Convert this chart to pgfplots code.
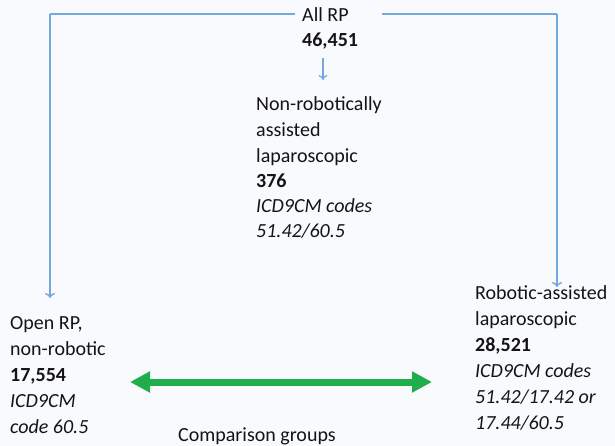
\documentclass[border=0pt]{standalone}
\usepackage{pgfplots}
\pgfplotsset{compat=1.18}
\usepackage{fontspec}
\setmainfont{Carlito}
\usetikzlibrary{arrows.meta}
\definecolor{bgcol}{RGB}{248,250,253}
\definecolor{blueline}{RGB}{118,168,224}
\definecolor{greenarr}{RGB}{32,174,76}
\definecolor{txt}{RGB}{20,20,20}
\tikzset{lbl/.style={font=\fontsize{20bp}{25bp}\selectfont, text=txt, inner sep=0pt, anchor=base west}}
\begin{document}
\begin{tikzpicture}
\begin{axis}[scale only axis, width=615bp, height=446bp,
  xmin=0, xmax=615, ymin=0, ymax=446, y dir=reverse,
  hide axis, clip=false]
\addplot[fill=bgcol, draw=none] coordinates {(0,0) (615,0) (615,446) (0,446)} -- cycle;
% blue connectors
\addplot[blueline, line width=1.6bp] coordinates {(50,14) (295,14)};
\addplot[blueline, line width=1.6bp] coordinates {(382,14) (557,14)};
\addplot[blueline, line width=1.5bp, -{To[length=5bp,width=10bp]}] coordinates {(50,14) (50,298)};
\addplot[blueline, line width=1.5bp, -{To[length=5bp,width=10bp]}] coordinates {(557,14) (557,287)};
\addplot[blueline, line width=1.2bp, -{To[length=5bp,width=9bp]}] coordinates {(323,58) (323,80)};
% green double arrow
\addplot[greenarr, line width=7bp, {Triangle[length=20bp,width=20bp]}-{Triangle[length=20bp,width=20bp]}] coordinates {(130,382) (432,382)};
% texts
\node[lbl] at (axis cs:302,22) {All RP};
\node[lbl] at (axis cs:302,47) {\bfseries 46,451};
\node[lbl] at (axis cs:256,110) {Non-robotically};
\node[lbl] at (axis cs:256,136) {assisted};
\node[lbl] at (axis cs:256,162) {laparoscopic};
\node[lbl] at (axis cs:256,187) {\bfseries 376};
\node[lbl] at (axis cs:256,212) {\itshape ICD9CM codes};
\node[lbl] at (axis cs:256,237) {\itshape 51.42/60.5};
\node[lbl] at (axis cs:10,329) {Open RP,};
\node[lbl] at (axis cs:10,355) {non-robotic};
\node[lbl] at (axis cs:10,381) {\bfseries 17,554};
\node[lbl] at (axis cs:10,407) {\itshape ICD9CM};
\node[lbl] at (axis cs:10,433) {\itshape code 60.5};
\node[lbl] at (axis cs:475,299) {Robotic-assisted};
\node[lbl] at (axis cs:475,325) {laparoscopic};
\node[lbl] at (axis cs:475,351) {\bfseries 28,521};
\node[lbl] at (axis cs:475,377) {\itshape ICD9CM codes};
\node[lbl] at (axis cs:475,403) {\itshape 51.42/17.42 or};
\node[lbl] at (axis cs:475,429) {\itshape 17.44/60.5};
\node[lbl, anchor=base] at (axis cs:257,441) {Comparison groups};
\end{axis}
\end{tikzpicture}
\end{document}
